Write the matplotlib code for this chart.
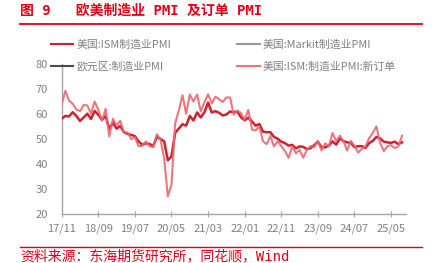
import numpy as np
import matplotlib
matplotlib.use("Agg")
import matplotlib.pyplot as plt
from matplotlib.lines import Line2D

plt.rcParams['font.family'] = ['Noto Sans CJK SC', 'DejaVu Sans']

# monthly data, 2017-11 .. 2025-08
ism_pmi = [58.2, 59.3,
           59.1, 60.8, 59.3, 57.3, 58.7, 60.2, 58.1, 61.3, 59.8, 57.7, 59.3, 54.1,
           56.6, 54.2, 55.3, 52.8, 52.1, 51.7, 51.2, 49.1, 47.8, 48.3, 48.1, 47.2,
           50.9, 50.1, 49.1, 41.5, 43.1, 52.6, 54.2, 56.0, 55.4, 59.3, 57.5, 60.7,
           58.7, 60.8, 64.7, 60.7, 61.2, 60.6, 59.5, 59.9, 61.1, 60.8, 61.1, 58.7,
           57.6, 58.6, 57.1, 55.4, 56.1, 53.0, 52.8, 52.8, 50.9, 50.2, 49.0, 48.4,
           47.4, 47.7, 46.3, 47.1, 46.9, 46.0, 46.4, 47.6, 49.0, 46.7, 46.7, 47.4,
           49.1, 47.8, 50.3, 49.2, 48.7, 48.5, 46.8, 47.2, 47.2, 46.5, 48.4, 49.3,
           50.9, 50.3, 49.0, 48.7, 48.5, 49.0, 48.0, 48.7]
ism_new_orders = [64.0, 69.4,
                  65.4, 64.2, 61.9, 61.2, 63.7, 63.5, 60.2, 65.1, 61.8, 57.4, 62.1, 51.1,
                  58.2, 55.5, 57.4, 52.7, 52.7, 50.0, 50.8, 47.2, 47.3, 49.1, 47.2, 46.8,
                  52.0, 49.8, 42.2, 27.1, 31.8, 56.4, 61.5, 67.6, 60.2, 67.9, 65.1, 67.9,
                  61.1, 64.8, 68.0, 64.3, 67.0, 66.0, 64.9, 66.7, 66.7, 59.8, 61.5, 60.4,
                  57.9, 61.7, 53.8, 53.5, 55.1, 49.2, 48.0, 51.3, 47.1, 49.2, 47.2, 45.2,
                  42.5, 47.0, 44.3, 45.7, 42.6, 45.6, 47.3, 46.8, 49.2, 45.5, 48.3, 47.1,
                  52.5, 49.2, 51.4, 49.1, 45.4, 49.3, 47.4, 44.6, 46.1, 47.1, 50.4, 52.5,
                  55.1, 48.6, 45.2, 47.2, 47.6, 46.4, 47.1, 51.4]
markit_pmi = []
euro_pmi = []

tick_labels = ['17/11', '18/09', '19/07', '20/05', '21/03',
               '22/01', '22/11', '23/09', '24/07', '25/05']

red = '#E0001A'
gray_txt = '#808080'

fig = plt.figure(figsize=(4.33, 2.63), dpi=100)
ax = fig.add_axes([0.1425, 0.1863, 0.7945, 0.5692])

x = np.arange(len(ism_pmi))
# plot order chosen so the 2-column legend reads row by row like the source
ax.plot(x, ism_pmi, color='#D21F2F', lw=1.8, label='美国:ISM制造业PMI', zorder=3)
ax.plot(euro_pmi, euro_pmi, color='#4A4A4A', lw=1.5, label='欧元区:制造业PMI')
ax.plot(markit_pmi, markit_pmi, color='#9A9A9A', lw=1.5, label='美国:Markit制造业PMI')
ax.plot(x, ism_new_orders, color='#EC6670', lw=1.5, alpha=0.9,
        label='美国:ISM:制造业PMI:新订单', zorder=4)

ax.set_xlim(0, 94)
ax.set_ylim(20, 80)
ax.set_yticks(range(20, 81, 10))
ax.set_xticks(range(0, 91, 10))
ax.set_xticklabels(tick_labels)
for s in ['top', 'right']:
    ax.spines[s].set_visible(False)
for s in ['left', 'bottom']:
    ax.spines[s].set_color('#A6A6A6')
    ax.spines[s].set_linewidth(1.0)
ax.tick_params(axis='x', direction='inout', length=4, color='#A6A6A6',
               labelsize=8, labelcolor=gray_txt, pad=5)
ax.tick_params(axis='y', length=0, labelsize=8, labelcolor=gray_txt, pad=10)

leg = fig.legend(loc='upper left', bbox_to_anchor=(0.117, 0.85), ncol=2,
                 frameon=False, fontsize=7.8, handlelength=2.1, handletextpad=0.25,
                 columnspacing=6.1, labelspacing=1.05, labelcolor=gray_txt,
                 borderpad=0, borderaxespad=0)
for h in leg.get_lines():
    h.set_linewidth(1.5)

# title and frame lines
fig.text(20 / 433, 1 - 11 / 263, '图 9   欧美制造业 PMI 及订单 PMI',
         family=['DejaVu Sans Mono', 'Noto Sans CJK SC'], fontweight='bold',
         fontsize=10, color=red, va='center', ha='left')
fig.add_artist(Line2D([20 / 433, 422 / 433], [1 - 24 / 263, 1 - 24 / 263],
                      color=red, lw=1.3))
fig.add_artist(Line2D([20 / 433, 422 / 433], [1 - 246.5 / 263, 1 - 246.5 / 263],
                      color=red, lw=1.0))
fig.text(20 / 433, 1 - 256 / 263, '资料来源：东海期货研究所，同花顺，Wind',
         family=['DejaVu Sans Mono', 'Noto Sans CJK SC'],
         fontsize=10, color=red, va='center', ha='left')

fig.savefig('out.png', dpi=100)
